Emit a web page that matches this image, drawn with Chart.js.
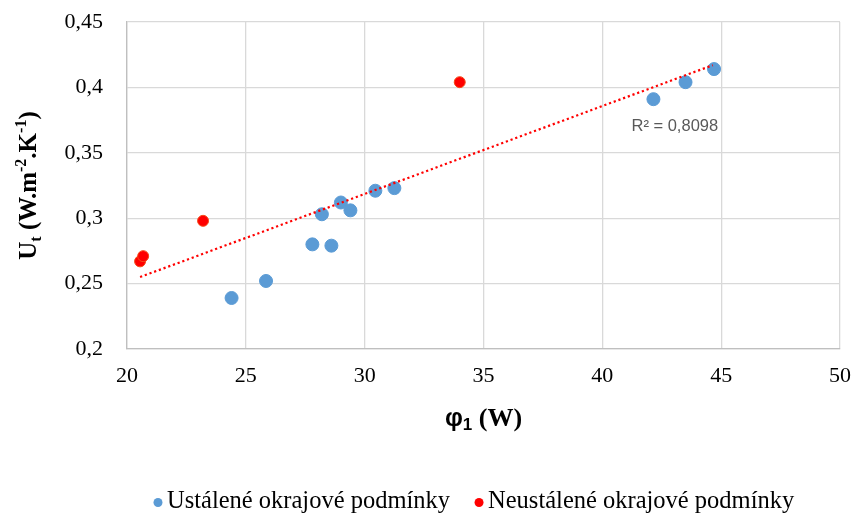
<!doctype html>
<html lang="cs">
<head>
  <meta charset="utf-8">
  <title>Ut vs phi1</title>
  <script src="https://cdn.jsdelivr.net/npm/chart.js"></script>
  <style>
    html, body { margin: 0; padding: 0; background: #fff; }
  </style>
</head>
<body>
  <canvas id="myChart"></canvas>
  <script>
    // data
    const ustaleneX = [24.4, 25.85, 27.8, 28.2, 28.6, 29.0, 29.4, 30.45, 31.25, 42.15, 43.5, 44.7];
    const ustaleneY = [0.239, 0.252, 0.280, 0.303, 0.279, 0.312, 0.306, 0.321, 0.323, 0.391, 0.404, 0.414];
    const neustaleneX = [20.55, 20.68, 23.2, 34.0];
    const neustaleneY = [0.267, 0.271, 0.298, 0.404];
    // linear trend line, end points
    const trendX = [20.55, 44.65];
    const trendY = [0.255, 0.417];
    const legendLabels = ['Ustálené okrajové podmínky', 'Neustálené okrajové podmínky'];
    const legendColors = ['#5b9bd5', '#ff0000'];
    const r2Text = 'R² = 0,8098';

    const toPts = (xs, ys) => xs.map((x, i) => ({ x: x, y: ys[i] }));
    const comma = v => Number(v.toFixed(2)).toString().replace('.', ',');

    // draws text made of pieces (sub/superscripts)
    function drawRich(ctx, parts, cx, cy, rotate, off) {
      ctx.save();
      ctx.translate(cx, cy);
      if (rotate) ctx.rotate(-Math.PI / 2);
      let total = 0;
      parts.forEach(p => { ctx.font = p.f; total += ctx.measureText(p.t).width; });
      let x = -total / 2;
      ctx.fillStyle = '#000';
      ctx.textBaseline = 'alphabetic';
      parts.forEach(p => {
        ctx.font = p.f;
        ctx.fillText(p.t, x, off + (p.dy || 0));
        x += ctx.measureText(p.t).width;
      });
      ctx.restore();
    }

    const extras = {
      id: 'extras',
      afterDraw(chart) {
        const ctx = chart.ctx;
        const a = chart.chartArea;
        const big = 'bold 25px "Liberation Serif"';
        const small = 'bold 16px "Liberation Serif"';
        drawRich(ctx, [
          { t: 'U', f: big },
          { t: 't', f: small, dy: 5 },
          { t: ' (W.m', f: big },
          { t: '-2', f: small, dy: -10 },
          { t: '.K', f: big },
          { t: '-1', f: small, dy: -10 },
          { t: ')', f: big }
        ], 28, (a.top + a.bottom) / 2, true, 8);
        drawRich(ctx, [
          { t: 'φ', f: 'bold 25px "Liberation Sans"' },
          { t: '1', f: 'bold 17px "Liberation Sans"', dy: 4 },
          { t: ' (W)', f: 'bold 26px "Liberation Serif"' }
        ], (a.left + a.right) / 2, 417, false, 9);

        // R² label of the trend
        const xs = chart.scales.x, ys = chart.scales.y;
        ctx.save();
        ctx.font = '16.5px "Liberation Sans"';
        ctx.fillStyle = '#595959';
        ctx.textAlign = 'center';
        ctx.textBaseline = 'middle';
        ctx.fillText(r2Text, xs.getPixelForValue(43.05), ys.getPixelForValue(0.3705));

        // legend
        ctx.font = '24.5px "Liberation Serif"';
        ctx.textAlign = 'left';
        ctx.textBaseline = 'alphabetic';
        let x = 158;
        legendLabels.forEach((lab, i) => {
          ctx.fillStyle = legendColors[i];
          ctx.beginPath();
          ctx.arc(x, 502.5, 4.5, 0, Math.PI * 2);
          ctx.fill();
          ctx.fillStyle = '#000';
          ctx.fillText(lab, x + 9, 508);
          x += 9 + ctx.measureText(lab).width + 29;
        });
        ctx.restore();
      }
    };

    const data = {
      datasets: [{
        type: 'scatter',
        label: legendLabels[0],
        data: toPts(ustaleneX, ustaleneY),
        backgroundColor: legendColors[0],
        borderColor: legendColors[0],
        pointRadius: 6.5,
        order: 1
      }, {
        type: 'scatter',
        label: legendLabels[1],
        data: toPts(neustaleneX, neustaleneY),
        backgroundColor: legendColors[1],
        borderColor: '#f54a1a',
        borderWidth: 1,
        pointRadius: 5.5,
        order: 2
      }, {
        type: 'line',
        label: 'trend',
        data: toPts(trendX, trendY),
        borderColor: '#ff0000',
        borderWidth: 2.2,
        borderDash: [2.2, 2.8],
        pointRadius: 0,
        fill: false,
        order: 0
      }]
    };

    const config = {
      type: 'scatter',
      data,
      options: {
        responsive: false,
        animation: false,
        layout: { padding: { top: 22, right: 16, left: 0, bottom: 0 } },
        scales: {
          x: {
            type: 'linear',
            min: 20, max: 50,
            ticks: { stepSize: 5, color: '#000', padding: 14,
              font: { family: 'Liberation Serif', size: 22 }, callback: v => comma(v) },
            grid: { color: '#d9d9d9', lineWidth: 1.3, drawTicks: false },
            border: { color: '#bfbfbf', width: 1.3 },
            afterFit(s) { s.height = 164; s.paddingLeft = 0; s.paddingRight = 0; }
          },
          y: {
            min: 0.2, max: 0.45,
            ticks: { stepSize: 0.05, color: '#000', padding: 24,
              font: { family: 'Liberation Serif', size: 22 }, callback: v => comma(v) },
            grid: { color: '#d9d9d9', lineWidth: 1.3, drawTicks: false },
            border: { color: '#bfbfbf', width: 1.3 },
            afterFit(s) { s.width = 127; s.paddingTop = 0; s.paddingBottom = 0; }
          }
        },
        plugins: {
          tooltip: { enabled: false },
          legend: { display: false }
        }
      },
      plugins: [extras]
    };

    const canvas = document.getElementById('myChart');
    canvas.width = 856;
    canvas.height = 513;
    const myChart = new Chart(canvas, config);
  </script>
</body>
</html>
